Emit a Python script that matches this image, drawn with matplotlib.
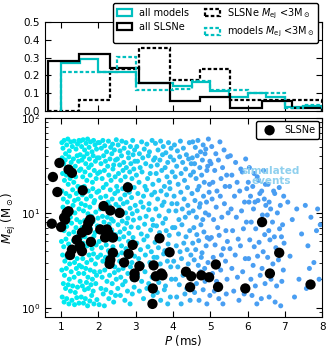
import matplotlib
matplotlib.use("Agg")
import matplotlib.pyplot as plt
import numpy as np
from matplotlib.colors import LinearSegmentedColormap

# ---- histogram data (normalised fractions per bin) ----
model_edges = [1.0, 1.5, 2.0, 2.5, 3.0, 3.5, 4.0, 4.5, 5.0, 5.5, 6.0, 6.5, 7.0, 7.5, 8.0]
all_models = [0.27, 0.29, 0.22, 0.22, 0.16, 0.16, 0.14, 0.165, 0.11, 0.08, 0.10, 0.08, 0.02, 0.03]
models_low = [0.22, 0.22, 0.22, 0.305, 0.12, 0.12, 0.125, 0.17, 0.12, 0.12, 0.10, 0.10, 0.015, 0.035]

slsne_edges = [0.66, 1.49, 2.30, 3.10, 3.93, 4.73, 5.54, 6.38, 7.18, 8.0]
all_slsne = [0.28, 0.32, 0.24, 0.155, 0.055, 0.077, 0.015, 0.056, 0.015]
slsne_low = [0.0, 0.06, 0.235, 0.355, 0.175, 0.235, 0.06, 0.06, 0.06]

# ---- observed SLSNe ----
slsne_P = [0.75, 0.78, 0.90, 0.955, 1.0, 1.20, 1.29, 1.08, 1.15, 1.20, 1.11, 1.29, 1.24,
           1.42, 1.51, 1.56, 1.58, 1.56, 1.69, 1.73, 1.78, 1.71, 1.80, 2.14, 2.05, 2.18,
           2.23, 2.32, 2.27, 2.39, 2.39, 2.32, 2.30, 2.57, 2.79, 2.69, 2.81, 2.92, 2.97,
           2.97, 3.10, 3.48, 3.64, 3.54, 3.69, 3.72, 3.46, 3.45, 3.91, 4.35, 4.49, 4.46,
           4.76, 4.97, 5.15, 5.21, 5.94, 6.39, 6.60, 6.85, 7.69]
slsne_M = [7.7, 23.9, 16.6, 33.6, 7.1, 28.6, 26.4, 8.9, 10.0, 10.4, 8.5, 4.1, 3.6,
           5.2, 4.5, 3.95, 17.3, 6.2, 6.95, 7.85, 8.5, 6.6, 4.95, 11.8, 6.7, 5.5,
           6.7, 10.6, 6.1, 5.5, 3.8, 3.2, 2.9, 10.0, 18.6, 3.0, 3.7, 4.6, 2.3,
           2.1, 2.75, 2.8, 5.4, 2.15, 2.3, 2.2, 1.6, 1.1, 3.85, 2.4, 2.15, 1.65,
           2.2, 2.1, 2.86, 1.66, 1.6, 8.0, 2.3, 3.8, 1.76]

# ---- simulated events (P [ms], Mej [Msun]) ----
sim_points = [
    # 1.0 - 1.5
    (1.02, 55), (1.05, 48), (1.08, 58), (1.12, 42), (1.15, 52), (1.18, 60), (1.22, 45), (1.26, 56),
    (1.30, 50), (1.35, 57), (1.40, 47), (1.44, 53), (1.48, 58), (1.03, 38), (1.07, 33), (1.11, 36),
    (1.16, 30), (1.21, 39), (1.27, 34), (1.33, 37), (1.38, 31), (1.43, 40), (1.47, 35), (1.04, 26),
    (1.09, 22), (1.14, 25), (1.19, 20), (1.24, 23), (1.29, 27), (1.34, 21), (1.39, 24), (1.45, 19),
    (1.49, 28), (1.02, 17), (1.06, 14), (1.13, 16), (1.17, 13), (1.23, 15), (1.31, 17.5), (1.36, 13.5),
    (1.41, 16), (1.46, 14), (1.05, 11.5), (1.10, 9.5), (1.18, 11), (1.25, 9), (1.32, 12), (1.37, 10),
    (1.42, 8.5), (1.48, 11), (1.03, 7.5), (1.08, 6.5), (1.15, 7.2), (1.21, 6), (1.28, 7.8), (1.34, 6.3),
    (1.40, 7), (1.46, 5.8), (1.01, 5), (1.07, 4.4), (1.13, 5.3), (1.20, 4.7), (1.26, 4), (1.33, 5.1),
    (1.39, 4.3), (1.45, 4.9), (1.04, 3.6), (1.10, 3.1), (1.16, 3.4), (1.23, 2.9), (1.30, 3.5), (1.36, 3.0),
    (1.43, 3.3), (1.49, 2.8), (1.02, 2.5), (1.09, 2.2), (1.14, 2.6), (1.22, 2.0), (1.27, 2.4), (1.35, 2.1),
    (1.41, 2.6), (1.47, 2.3), (1.06, 1.8), (1.12, 1.6), (1.19, 1.75), (1.25, 1.5), (1.31, 1.7), (1.38, 1.45),
    (1.44, 1.65), (1.03, 1.3), (1.08, 1.15), (1.15, 1.25), (1.21, 1.1), (1.29, 1.2), (1.36, 1.08),
    (1.42, 1.28), (1.48, 1.12),
    # 1.5 - 2.0
    (1.52, 57), (1.55, 50), (1.59, 59), (1.63, 46), (1.67, 54), (1.71, 60), (1.75, 49), (1.79, 56),
    (1.83, 44), (1.87, 58), (1.91, 52), (1.95, 47), (1.99, 55), (1.51, 41), (1.56, 36), (1.61, 39),
    (1.66, 33), (1.70, 42), (1.76, 37), (1.81, 32), (1.86, 40), (1.92, 35), (1.97, 38), (1.53, 29),
    (1.58, 24), (1.64, 27), (1.69, 22), (1.74, 30), (1.78, 25), (1.84, 21), (1.89, 28), (1.94, 23),
    (1.98, 26), (1.52, 18.5), (1.57, 15.5), (1.62, 19), (1.68, 14), (1.73, 17), (1.80, 15), (1.85, 18),
    (1.90, 13.5), (1.96, 16.5), (1.54, 12.5), (1.60, 10.5), (1.65, 12), (1.72, 9.8), (1.77, 11.5),
    (1.82, 9.2), (1.88, 12.8), (1.93, 10.2), (1.99, 8.8), (1.51, 8), (1.56, 7), (1.63, 8.3), (1.67, 6.4),
    (1.74, 7.6), (1.79, 6.8), (1.86, 8.1), (1.91, 6.2), (1.97, 7.3), (1.53, 5.5), (1.59, 4.8), (1.64, 5.6),
    (1.70, 4.5), (1.76, 5.2), (1.83, 4.2), (1.88, 5.7), (1.94, 4.6), (1.52, 3.8), (1.58, 3.3), (1.62, 3.9),
    (1.69, 3.0), (1.75, 3.6), (1.81, 3.2), (1.87, 3.7), (1.92, 2.9), (1.98, 3.4), (1.55, 2.7), (1.61, 2.3),
    (1.66, 2.6), (1.72, 2.1), (1.78, 2.5), (1.84, 2.0), (1.89, 2.4), (1.95, 2.2), (1.51, 1.9), (1.57, 1.7),
    (1.63, 1.55), (1.68, 1.85), (1.73, 1.6), (1.80, 1.75), (1.86, 1.5), (1.93, 1.8), (1.54, 1.3),
    (1.60, 1.12), (1.65, 1.25), (1.71, 1.05), (1.77, 1.18), (1.82, 1.35), (1.88, 1.1), (1.96, 1.22),
    # 2.0 - 2.5
    (2.03, 55), (2.08, 48), (2.12, 58), (2.17, 51), (2.22, 44), (2.27, 57), (2.33, 49), (2.38, 53),
    (2.43, 46), (2.48, 59), (2.02, 38), (2.07, 33), (2.14, 40), (2.19, 35), (2.25, 31), (2.31, 37),
    (2.36, 42), (2.41, 32), (2.46, 36), (2.04, 27), (2.10, 23), (2.16, 28), (2.21, 20), (2.28, 25),
    (2.34, 22), (2.39, 29), (2.45, 24), (2.01, 17), (2.06, 14.5), (2.13, 18.5), (2.20, 15), (2.26, 13),
    (2.32, 17.5), (2.37, 14), (2.44, 16), (2.49, 19), (2.05, 11), (2.11, 9.2), (2.18, 12.5), (2.24, 9),
    (2.30, 11.8), (2.35, 8.6), (2.42, 10.5), (2.47, 12.3), (2.03, 7.2), (2.09, 6.3), (2.15, 8), (2.23, 6),
    (2.29, 7.6), (2.36, 6.6), (2.40, 8.2), (2.46, 5.9), (2.02, 5), (2.08, 4.3), (2.14, 5.4), (2.21, 4.6),
    (2.27, 4), (2.33, 5.2), (2.39, 4.4), (2.45, 5.6), (2.06, 3.6), (2.12, 3.1), (2.19, 3.4), (2.26, 2.8),
    (2.31, 3.7), (2.38, 3.2), (2.44, 2.7), (2.04, 2.4), (2.10, 2.1), (2.17, 2.5), (2.23, 1.9), (2.30, 2.2),
    (2.37, 1.8), (2.43, 2.35), (2.48, 2.0), (2.07, 1.6), (2.13, 1.4), (2.20, 1.55), (2.28, 1.25),
    (2.34, 1.45), (2.41, 1.15), (2.46, 1.35), (2.02, 1.08), (2.16, 1.05),
    # 2.5 - 3.0
    (2.53, 52), (2.58, 45), (2.63, 57), (2.69, 48), (2.74, 55), (2.80, 43), (2.86, 50), (2.92, 58),
    (2.97, 46), (2.51, 37), (2.57, 32), (2.62, 40), (2.68, 34), (2.75, 30), (2.81, 38), (2.87, 33),
    (2.93, 41), (2.98, 35), (2.54, 26), (2.60, 22), (2.66, 28), (2.72, 24), (2.78, 20), (2.84, 27),
    (2.90, 23), (2.95, 29), (2.52, 17), (2.59, 14), (2.65, 18), (2.71, 15.5), (2.77, 13), (2.83, 16.5),
    (2.89, 14.5), (2.96, 18.5), (2.55, 11.5), (2.61, 9.5), (2.67, 12.5), (2.73, 10), (2.79, 8.8),
    (2.85, 11.2), (2.91, 9.8), (2.99, 12), (2.53, 7.5), (2.58, 6.3), (2.64, 8.2), (2.70, 6.8), (2.76, 7.8),
    (2.82, 6.1), (2.88, 7.1), (2.94, 8.4), (2.56, 5.3), (2.62, 4.5), (2.68, 5.6), (2.74, 4.2), (2.81, 5),
    (2.87, 4.6), (2.93, 5.5), (2.51, 3.6), (2.57, 3.1), (2.63, 3.8), (2.70, 2.9), (2.77, 3.4), (2.84, 3.9),
    (2.90, 3.0), (2.97, 3.5), (2.54, 2.5), (2.60, 2.1), (2.66, 2.6), (2.72, 1.9), (2.79, 2.3), (2.86, 2.7),
    (2.92, 2.0), (2.98, 2.4), (2.52, 1.6), (2.59, 1.35), (2.65, 1.75), (2.71, 1.2), (2.78, 1.5),
    (2.85, 1.1), (2.91, 1.4), (2.96, 1.65),
    # 3.0 - 3.5
    (3.03, 50), (3.10, 42), (3.16, 56), (3.23, 47), (3.30, 53), (3.37, 44), (3.44, 58), (3.05, 35),
    (3.12, 30), (3.19, 38), (3.27, 33), (3.34, 40), (3.41, 31), (3.48, 36), (3.02, 25), (3.09, 21),
    (3.17, 27), (3.25, 19), (3.32, 23), (3.39, 26), (3.46, 20), (3.06, 16), (3.14, 13), (3.21, 15),
    (3.29, 17.5), (3.36, 12.5), (3.43, 15.5), (3.04, 10.5), (3.11, 8.8), (3.20, 11.5), (3.28, 9.2),
    (3.35, 10.8), (3.45, 8.5), (3.07, 7), (3.15, 6), (3.24, 7.6), (3.31, 5.7), (3.40, 6.6), (3.47, 7.4),
    (3.03, 4.8), (3.13, 4.1), (3.22, 5.2), (3.33, 4.4), (3.42, 3.9), (3.08, 3.3), (3.18, 2.8), (3.26, 3.6),
    (3.38, 3.0), (3.49, 3.4), (3.05, 2.2), (3.16, 1.9), (3.25, 2.4), (3.35, 1.8), (3.44, 2.1), (3.10, 1.5),
    (3.21, 1.25), (3.30, 1.6), (3.40, 1.15), (3.47, 1.35),
    # 3.5 - 4.0
    (3.53, 54), (3.60, 46), (3.67, 57), (3.74, 50), (3.81, 43), (3.88, 55), (3.95, 48), (3.52, 38),
    (3.58, 32), (3.65, 36), (3.72, 41), (3.79, 30), (3.86, 34), (3.93, 39), (3.55, 26), (3.62, 22),
    (3.70, 28), (3.77, 19), (3.84, 24), (3.91, 21), (3.98, 27), (3.51, 16.5), (3.59, 14), (3.68, 17),
    (3.76, 13), (3.83, 15.5), (3.92, 18), (3.54, 11), (3.63, 9.3), (3.71, 12), (3.80, 8.7), (3.89, 10.5),
    (3.97, 12.5), (3.56, 7.3), (3.64, 6.2), (3.73, 7.8), (3.82, 6.5), (3.90, 5.8), (3.99, 7), (3.52, 4.9),
    (3.61, 4.3), (3.69, 5.4), (3.78, 4.0), (3.87, 4.7), (3.57, 3.4), (3.66, 2.9), (3.75, 3.7), (3.85, 3.1),
    (3.94, 2.7), (3.53, 2.1), (3.62, 1.85), (3.71, 2.4), (3.80, 1.7), (3.96, 2.0), (3.58, 1.45),
    (3.67, 1.2), (3.77, 1.55), (3.86, 1.1), (3.93, 1.3),
    # 4.0 - 4.5
    (4.04, 52), (4.12, 45), (4.20, 57), (4.28, 48), (4.36, 41), (4.44, 55), (4.02, 36), (4.10, 31),
    (4.18, 39), (4.26, 34), (4.34, 29), (4.42, 37), (4.49, 33), (4.06, 24), (4.14, 20), (4.22, 26),
    (4.31, 22), (4.39, 18.5), (4.47, 25), (4.03, 15), (4.11, 12.5), (4.21, 16.5), (4.30, 14), (4.40, 12),
    (4.08, 10.5), (4.16, 8.5), (4.25, 11), (4.33, 9), (4.43, 10), (4.05, 7), (4.15, 6), (4.24, 7.5),
    (4.35, 5.6), (4.45, 6.5), (4.09, 4.5), (4.19, 3.9), (4.29, 4.8), (4.38, 4.1), (4.48, 3.6), (4.02, 3.1),
    (4.13, 2.7), (4.23, 3.3), (4.41, 2.9), (4.07, 2.0), (4.17, 1.75), (4.27, 2.2), (4.37, 1.6), (4.10, 1.3),
    (4.22, 1.1), (4.32, 1.4), (4.46, 1.2),
    # 4.5 - 5.0
    (4.53, 56), (4.60, 49), (4.67, 58), (4.74, 44), (4.81, 52), (4.88, 47), (4.95, 60), (4.52, 38),
    (4.58, 33), (4.65, 40), (4.72, 30), (4.79, 36), (4.86, 42), (4.93, 31), (4.99, 35), (4.55, 27),
    (4.62, 23), (4.70, 19), (4.77, 25), (4.84, 21), (4.91, 28), (4.98, 20), (4.51, 16), (4.59, 13.5),
    (4.66, 17.5), (4.73, 12.5), (4.82, 15), (4.90, 13), (4.97, 16.5), (4.54, 10.5), (4.63, 9), (4.71, 11.5),
    (4.80, 8.5), (4.87, 10), (4.96, 9.5), (4.56, 7), (4.64, 5.9), (4.75, 7.5), (4.83, 6.3), (4.92, 5.5),
    (4.53, 4.8), (4.61, 4.1), (4.69, 5.1), (4.78, 3.8), (4.89, 4.5), (4.98, 5.3), (4.57, 3.2), (4.68, 2.8),
    (4.76, 3.4), (4.85, 2.6), (4.94, 3.0), (4.52, 2.2), (4.63, 1.8), (4.74, 2.4), (4.86, 1.9), (4.95, 2.1),
    (4.58, 1.45), (4.70, 1.2), (4.81, 1.55), (4.91, 1.1), (4.99, 1.35),
    # 5.0 - 5.5
    (5.04, 50), (5.15, 42), (5.26, 56), (5.37, 46), (5.47, 39), (5.02, 33), (5.12, 28), (5.22, 36),
    (5.33, 30), (5.44, 25), (5.07, 21), (5.18, 17), (5.29, 23), (5.40, 19), (5.05, 14), (5.16, 11.5),
    (5.27, 15), (5.38, 12.5), (5.48, 10), (5.09, 8.5), (5.20, 7), (5.31, 9), (5.42, 6.5), (5.03, 5.5),
    (5.13, 4.6), (5.24, 5.8), (5.35, 4.2), (5.46, 5), (5.08, 3.4), (5.19, 2.9), (5.30, 3.6), (5.41, 3.1),
    (5.06, 2.3), (5.17, 1.9), (5.28, 2.5), (5.45, 2.0), (5.11, 1.5), (5.23, 1.25), (5.34, 1.1), (5.43, 1.4),
    # 5.5 - 6.0
    (5.54, 40), (5.68, 34), (5.82, 29), (5.95, 37), (5.58, 25), (5.72, 21), (5.86, 27), (5.98, 18),
    (5.52, 19), (5.65, 15), (5.79, 17), (5.92, 13), (5.56, 11), (5.70, 9), (5.84, 10.5), (5.97, 8),
    (5.60, 6.5), (5.75, 5.3), (5.89, 6.8), (5.53, 4.2), (5.67, 3.6), (5.81, 4.5), (5.94, 3.3), (5.58, 2.6),
    (5.73, 2.1), (5.87, 2.4), (5.63, 1.5), (5.77, 1.2), (5.91, 1.4),
    # 6.0 - 6.5
    (6.05, 30), (6.18, 26), (6.30, 22), (6.43, 28), (6.02, 21), (6.14, 19), (6.26, 24), (6.38, 17),
    (6.48, 20), (6.08, 15), (6.20, 13), (6.33, 16), (6.45, 14), (6.04, 13), (6.16, 11), (6.28, 13.5),
    (6.40, 9.5), (6.49, 12), (6.10, 8), (6.22, 6.8), (6.35, 7.5), (6.46, 5.9), (6.06, 5.2), (6.18, 4.4),
    (6.31, 4.9), (6.42, 3.9), (6.03, 3.3), (6.15, 2.8), (6.27, 3.5), (6.39, 2.6), (6.09, 2.0), (6.21, 1.7),
    (6.34, 2.2), (6.47, 1.8), (6.12, 1.35), (6.25, 1.1), (6.37, 1.25),
    # 6.5 - 7.0
    (6.55, 20), (6.70, 17), (6.85, 18.5), (6.97, 15), (6.58, 13), (6.73, 16), (6.88, 12), (6.62, 11),
    (6.53, 9.5), (6.67, 8), (6.80, 10), (6.94, 7.5), (6.57, 6.5), (6.72, 5.6), (6.86, 6.8), (6.98, 4.8),
    (6.60, 5.2), (6.76, 4.3), (6.91, 5.6), (6.54, 3.4), (6.68, 2.9), (6.83, 3.2), (6.96, 2.5), (6.63, 2.0),
    (6.78, 1.7), (6.92, 1.9), (6.58, 1.3), (6.74, 1.15), (6.89, 1.05),
    # 7.0 - 8.0
    (7.08, 13), (7.20, 8.5), (7.32, 11), (7.45, 6), (7.14, 3.5), (7.38, 2.0), (7.26, 1.3),
    (7.55, 12), (7.62, 4.5), (7.70, 9), (7.78, 3), (7.85, 6.5), (7.92, 2), (7.58, 1.6), (7.88, 11),
    (7.95, 7.5), (7.66, 2.6),
]
sim_P = [p for p, m in sim_points]
sim_M = [m for p, m in sim_points]

plt.rcParams['font.family'] = ['DejaVu Sans']
plt.rcParams['font.size'] = 7.5
plt.rcParams['xtick.direction'] = 'in'
plt.rcParams['ytick.direction'] = 'in'
plt.rcParams['xtick.top'] = True
plt.rcParams['ytick.right'] = True
plt.rcParams['xtick.major.size'] = 4
plt.rcParams['ytick.major.size'] = 4
plt.rcParams['ytick.minor.size'] = 2
plt.rcParams['axes.linewidth'] = 0.8

fig = plt.figure(figsize=(3.29, 3.48), dpi=100)
ax1 = fig.add_axes([0.137, 0.681, 0.842, 0.256])
ax2 = fig.add_axes([0.137, 0.089, 0.842, 0.572])

# ---- top panel: histograms ----
def centers(edges):
    e = np.asarray(edges)
    return 0.5 * (e[1:] + e[:-1])

dash = (0, (1.6, 1.0))
ax1.hist(centers(model_edges), bins=model_edges, weights=all_models, histtype='step',
         color='c', lw=1.6, label='all models')
ax1.hist(centers(slsne_edges), bins=slsne_edges, weights=all_slsne, histtype='step',
         color='k', lw=1.6, label='all SLSNe')
ax1.hist(centers(slsne_edges), bins=slsne_edges, weights=slsne_low, histtype='step',
         color='k', lw=1.6, ls=dash, label=r'SLSNe $M_{\mathrm{ej}}$ <3M$_\odot$')
ax1.hist(centers(model_edges), bins=model_edges, weights=models_low, histtype='step',
         color='c', lw=1.6, ls=dash, label=r'models $M_{\mathrm{ej}}$ <3M$_\odot$')

ax1.set_xlim(0.57, 8)
ax1.set_ylim(0, 0.5)
ax1.set_yticks([0.0, 0.1, 0.2, 0.3, 0.4, 0.5])
ax1.set_xticks(range(1, 9))
ax1.set_xticklabels([])
ax1.legend(ncol=2, loc='upper right', bbox_to_anchor=(0.986, 1.21), borderaxespad=0,
           fontsize=7, handlelength=1.6, handleheight=0.7, columnspacing=1.6,
           handletextpad=0.7, labelspacing=0.4, borderpad=0.35,
           framealpha=1, edgecolor='k', fancybox=True)

# ---- bottom panel: scatter ----
cmap = LinearSegmentedColormap.from_list('simcol', ['#00eaf0', '#1ccdf2', '#4a9ef2'])
ax2.scatter(sim_P, sim_M, c=sim_P, cmap=cmap, vmin=1.5, vmax=5.0, s=13,
            edgecolors='none', zorder=2)
ax2.scatter(slsne_P, slsne_M, c='k', s=55, edgecolors='none', zorder=3, label='SLSNe')
ax2.text(6.63, 24.5, 'simulated\nevents', color='#8fd0ee', fontweight='bold',
         ha='center', va='center', fontsize=7.5, linespacing=1.1, zorder=4)

ax2.set_yscale('log')
ax2.set_xlim(0.57, 8)
ax2.set_ylim(0.8, 100)
ax2.set_xticks(range(1, 9))
ax2.set_xlabel(r'$P$ (ms)', fontsize=8.5, labelpad=1)
ax2.set_ylabel(r'$M_{\mathrm{ej}}$ (M$_\odot$)', fontsize=8.5, labelpad=2)
ax2.legend(loc='upper right', scatterpoints=1, fontsize=7, borderpad=0.4,
           handletextpad=0.5, framealpha=1, edgecolor='k', fancybox=True,
           borderaxespad=0.3)

fig.savefig('out.png', dpi=100)
